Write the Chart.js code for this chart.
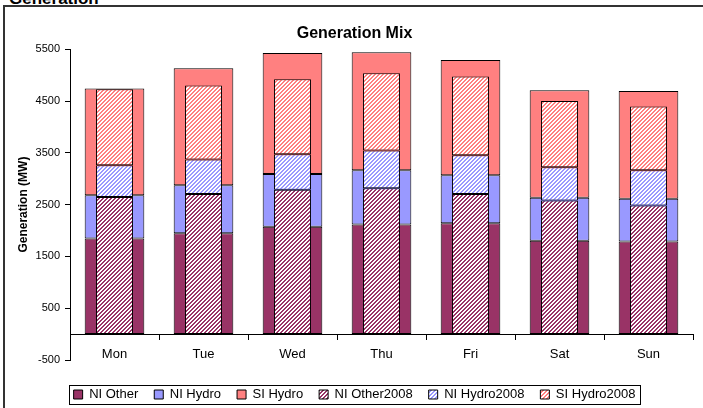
<!DOCTYPE html>
<html>
<head>
<meta charset="utf-8">
<script src="https://cdn.jsdelivr.net/npm/chart.js@4"></script>
<style>
html, body { margin: 0; padding: 0; background: #fff; overflow: hidden; }
#wrap { position: relative; width: 703px; height: 408px; overflow: hidden; }
#frame { position: absolute; left: 3px; top: 5px; width: 720px; height: 420px; border-left: 2px solid #333; border-top: 2px solid #333; }
#heading { position: absolute; left: 9px; top: -10px; font: bold 17px/17px 'Liberation Sans', Arial, sans-serif; }
canvas { position: absolute; left: 0; top: 0; }
</style>
</head>
<body>
<div id="wrap">
  <div id="heading">Generation</div>
  <div id="frame"></div>
  <canvas id="chart" width="703" height="408"></canvas>
</div>
<script>
Chart.defaults.font.family = "'Liberation Sans', Arial, sans-serif"
Chart.defaults.color = '#000'

const days = ['Mon', 'Tue', 'Wed', 'Thu', 'Fri', 'Sat', 'Sun']

const niOther = [1846, 1949, 2071, 2116, 2142, 1800, 1788]
const niHydro = [836, 926, 1022, 1048, 926, 830, 823]
const siHydro = [2058, 2257, 2335, 2277, 2225, 2078, 2083]

const niOther2008 = [2649, 2707, 2785, 2817, 2707, 2580, 2483]
const niHydro2008 = [612, 663, 688, 727, 747, 642, 681]
const siHydro2008 = [1466, 1428, 1447, 1492, 1518, 1279, 1229]

const yTicks = [-500, 500, 1500, 2500, 3500, 4500, 5500]

// excel style "wide upward diagonal" fill
function hatch(color) {
    const c = document.createElement('canvas')
    c.width = 4
    c.height = 4
    const g = c.getContext('2d')
    g.fillStyle = '#fff'
    g.fillRect(0, 0, 4, 4)
    g.fillStyle = color
    for (let y = 0; y < 4; y++) {
        for (let x = 0; x < 4; x++) {
            if ((x + y) % 4 < 2) g.fillRect(x, y, 1, 1)
        }
    }
    return g.createPattern(c, 'repeat')
}

// 2008 bars sit inside the current ones, so no side by side grouping
const wide = { xAxisID: 'x', stack: 'now', order: 1, grouped: false, barPercentage: 0.67, categoryPercentage: 1, borderColor: '#000', borderWidth: 1, borderSkipped: false }
const narrow = { xAxisID: 'x2', stack: 'old', order: 0, grouped: false, barPercentage: 0.415, categoryPercentage: 1, borderColor: '#000', borderWidth: 1, borderSkipped: false }

const data = {
    labels: days,
    datasets: [
        { ...wide, label: 'NI Other', data: niOther, backgroundColor: '#993366' },
        { ...wide, label: 'NI Hydro', data: niHydro, backgroundColor: '#9999ff' },
        { ...wide, label: 'SI Hydro', data: siHydro, backgroundColor: '#ff8080' },
        { ...narrow, label: 'NI Other2008', data: niOther2008, backgroundColor: hatch('#993366') },
        { ...narrow, label: 'NI Hydro2008', data: niHydro2008, backgroundColor: hatch('#9999ff') },
        { ...narrow, label: 'SI Hydro2008', data: siHydro2008, backgroundColor: hatch('#ff8080') }
    ]
}

const legendFrame = {
    id: 'legendFrame',
    afterDraw(chart) {
        const boxes = chart.legend.legendHitBoxes
        if (!boxes || !boxes.length) return
        const first = boxes[0]
        const last = boxes[boxes.length - 1]
        const ctx = chart.ctx
        ctx.save()
        ctx.strokeStyle = '#000'
        ctx.lineWidth = 1
        ctx.strokeRect(Math.round(first.left - 5) + 0.5, Math.round(first.top - 3) + 0.5,
            Math.round(last.left + last.width - first.left + 9), Math.round(first.height + 6))
        ctx.restore()
    }
}

const options = {
    responsive: false,
    animation: false,
    layout: { padding: { left: 16, right: 10, top: 0, bottom: -3 } },
    plugins: {
        title: {
            display: true,
            text: 'Generation Mix',
            font: { size: 16, weight: 'bold' },
            padding: { top: 24, bottom: 6 }
        },
        legend: {
            position: 'bottom',
            title: { display: true, text: '', font: { size: 10 }, padding: 0 },
            labels: {
                boxWidth: 9,
                boxHeight: 9,
                padding: 16,
                font: { size: 13 },
                sort: (a, b) => a.datasetIndex - b.datasetIndex
            }
        },
        tooltip: { enabled: false }
    },
    scales: {
        x: {
            type: 'category',
            position: { y: 0 },
            stacked: true,
            offset: true,
            grid: { offset: true, drawOnChartArea: false, tickLength: 5, color: '#000' },
            border: { color: '#000' },
            ticks: { padding: 8, font: { size: 13 }, maxRotation: 0 }
        },
        x2: {
            type: 'category',
            display: false,
            stacked: true,
            offset: true
        },
        y: {
            stacked: true,
            min: -500,
            max: 5500,
            afterBuildTicks: scale => { scale.ticks = yTicks.map(v => ({ value: v })) },
            afterFit: scale => { scale.width = 54 },
            grid: { drawOnChartArea: false, tickLength: 5, color: '#000' },
            border: { color: '#000' },
            ticks: { font: { size: 11 }, padding: 5, callback: v => String(v) },
            title: { display: true, text: 'Generation (MW)', font: { size: 12, weight: 'bold' }, padding: { top: 0, bottom: 0 } }
        }
    }
}

new Chart('chart', { type: 'bar', data, options, plugins: [legendFrame] })
</script>
</body>
</html>
